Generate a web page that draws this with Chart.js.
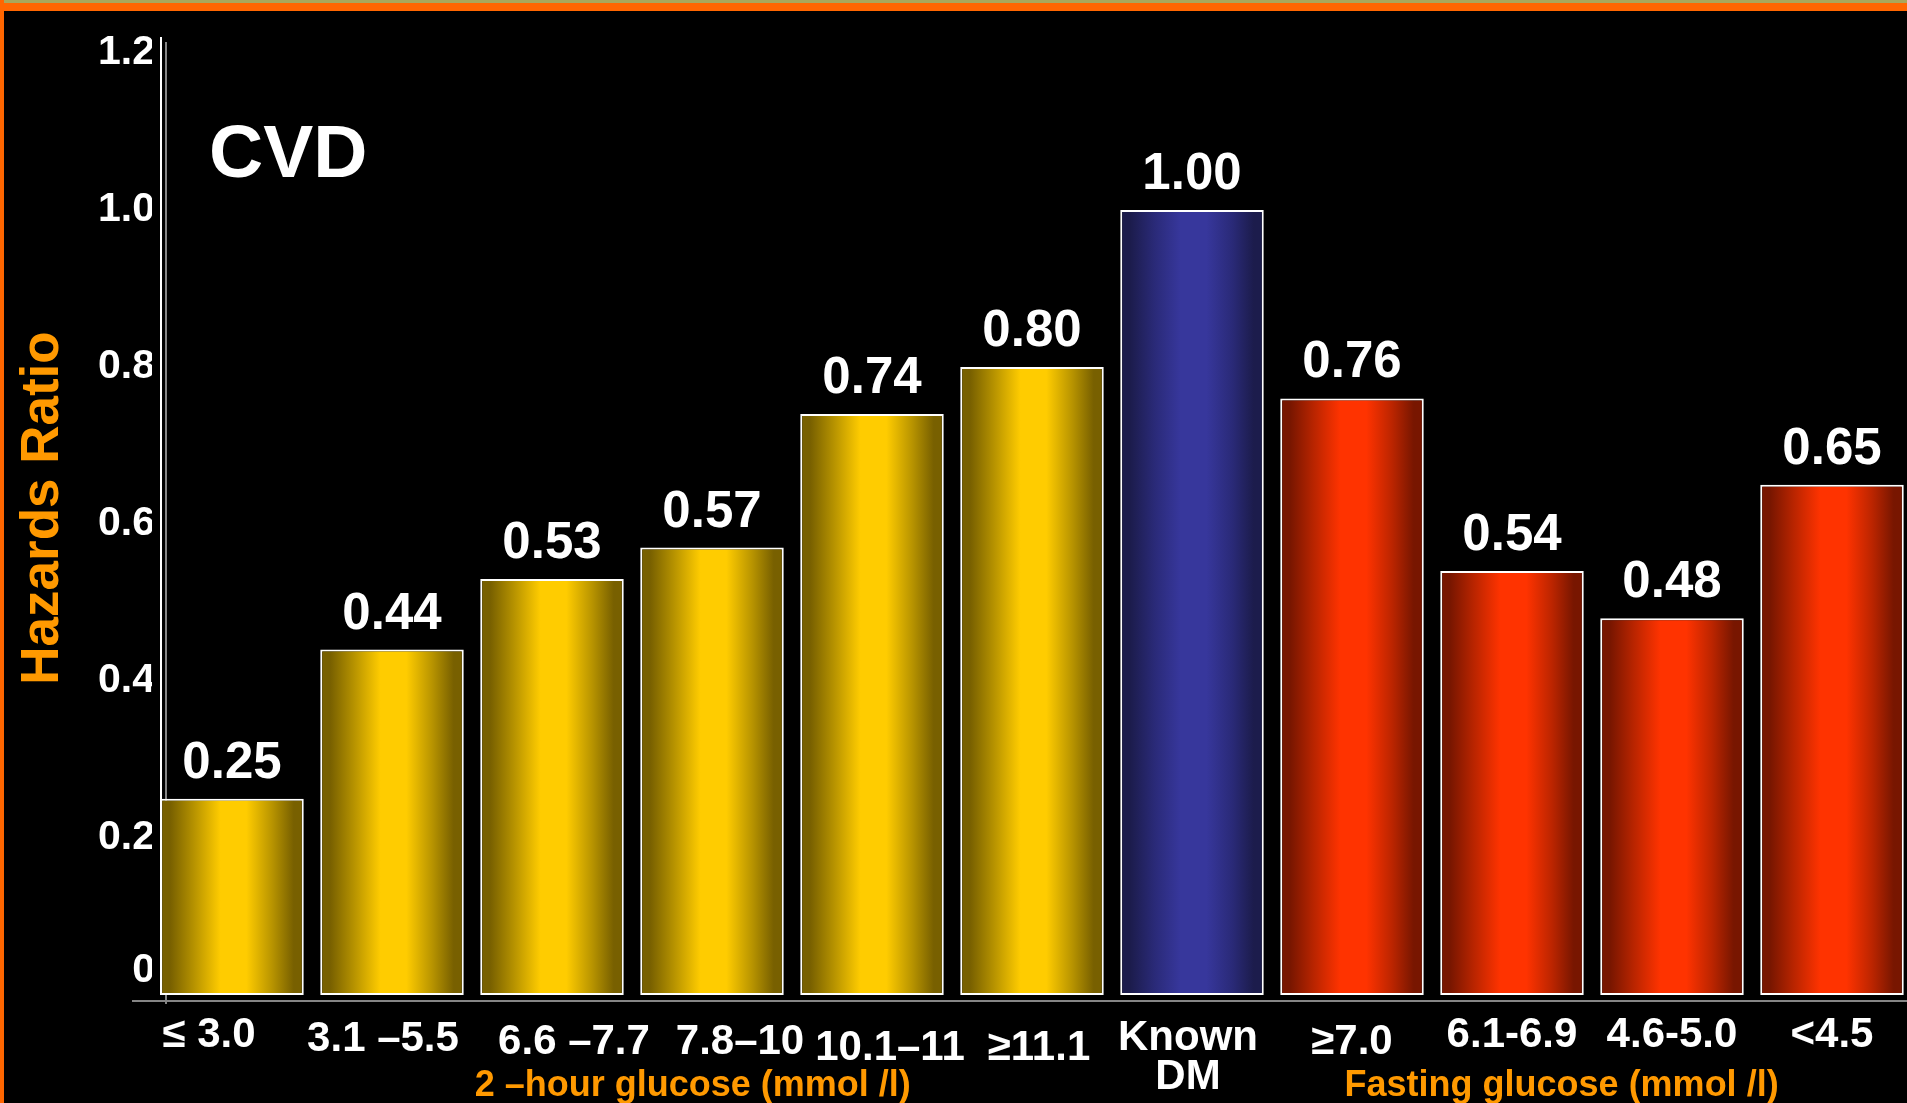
<!DOCTYPE html>
<html>
<head>
<meta charset="utf-8">
<title>CVD hazards ratio by glucose category</title>
<script src="https://cdn.jsdelivr.net/npm/chart.js@4/dist/chart.umd.min.js"></script>
<style>
  html, body { margin: 0; padding: 0; background: #000; overflow: hidden; }
  #wrap { width: 1912px; height: 1103px; }
</style>
</head>
<body>
<div id="wrap"><canvas id="chart" width="1912" height="1103"></canvas></div>
<script>
// ---- data ----
const categories = ['≤ 3.0', '3.1 –5.5', '6.6 –7.7', '7.8–10', '10.1–11', '≥11.1',
                    ['Known', 'DM'], '≥7.0', '6.1-6.9', '4.6-5.0', '<4.5'];
const twoHourHR = [0.25, 0.44, 0.53, 0.57, 0.74, 0.80, null, null, null, null, null];
const knownDmHR = [null, null, null, null, null, null, 1.00, null, null, null, null];
const fastingHR = [null, null, null, null, null, null, null, 0.76, 0.54, 0.48, 0.65];
const yTickValues = [0, 0.2, 0.4, 0.6, 0.8, 1.0, 1.2];
const groupTitles = ['2 –hour glucose (mmol /l)', 'Fasting glucose (mmol /l)'];
const yAxisTitle = 'Hazards Ratio';

// ---- layout / style ----
const FONT = '"Liberation Sans", Arial, Helvetica, sans-serif';
const BAR_FRACTION = 0.897;
// hand-placed shifts of the category labels, in pixels [dx, dy]
const labelNudges = [[-23, -2], [-9, 2], [22, 5], [28, 5], [18, 11], [7, 11],
                     [-4, 1], [0, 5], [0, -2], [0, -2], [0, -2]];
const GOLD = { edge: '#786000', mid: '#b89400', core: '#ffcc00' };
const BLUE = { edge: '#1c1c4c', mid: '#2a2a78', core: '#37379c' };
const RED  = { edge: '#781600', mid: '#bb2500', core: '#ff3300' };

Chart.defaults.font.family = FONT;

// horizontal "cylinder" shading across each bar
function barGradient(c) {
  return (ctx) => {
    const chart = ctx.chart;
    if (ctx.type !== 'data' || !chart.chartArea) return c.core;
    const xs = chart.scales.x;
    const cx = xs.getPixelForValue(ctx.dataIndex);
    const pitch = xs.getPixelForValue(1) - xs.getPixelForValue(0);
    const half = pitch * BAR_FRACTION / 2;
    const g = chart.ctx.createLinearGradient(cx - half, 0, cx + half, 0);
    g.addColorStop(0, c.edge);
    g.addColorStop(0.07, c.edge);
    g.addColorStop(0.24, c.mid);
    g.addColorStop(0.42, c.core);
    g.addColorStop(0.6, c.core);
    g.addColorStop(0.78, c.mid);
    g.addColorStop(0.93, c.edge);
    g.addColorStop(1, c.edge);
    return g;
  };
}

function barDataset(label, data, colors) {
  return {
    label, data,
    backgroundColor: barGradient(colors),
    borderColor: '#ffffff',
    borderWidth: 2,
    borderSkipped: false,
    categoryPercentage: 1,
    barPercentage: BAR_FRACTION,
    skipNull: true
  };
}

// slide frame and axis lines
const frame = {
  id: 'frame',
  beforeDraw(chart) {
    const { ctx, width, height } = chart;
    ctx.save();
    ctx.fillStyle = '#000';
    ctx.fillRect(0, 0, width, height);
    ctx.fillStyle = '#a9a75b';
    ctx.fillRect(0, 0, width, 3);
    ctx.fillStyle = '#ff6600';
    ctx.fillRect(0, 3, width, 8);
    ctx.fillRect(0, 0, 4, height);
    ctx.restore();

    // shift individual category labels before the x axis paints them
    const xs = chart.scales.x;
    xs.getLabelItems(chart.chartArea).forEach((item, i) => {
      const n = labelNudges[i];
      if (!n || item._nudged) return;
      item.options.translation = [item.options.translation[0] + n[0], item.options.translation[1] + n[1]];
      item._nudged = true;
    });
  },
  beforeDatasetsDraw(chart) {
    const { ctx, chartArea } = chart;
    const y0 = chart.scales.y.getPixelForValue(0);
    const yTop = chart.scales.y.getPixelForValue(1.2);
    const left = chartArea.left;
    ctx.save();
    ctx.lineWidth = 2;
    ctx.strokeStyle = '#ffffff';
    ctx.beginPath(); ctx.moveTo(left + 9, yTop - 16); ctx.lineTo(left + 9, y0); ctx.stroke();
    ctx.strokeStyle = '#858585';
    ctx.beginPath(); ctx.moveTo(left + 14, yTop - 11); ctx.lineTo(left + 14, y0 + 9); ctx.stroke();
    ctx.beginPath(); ctx.moveTo(left - 20, y0 + 6); ctx.lineTo(chart.width, y0 + 6); ctx.stroke();
    ctx.restore();
  }
};

// numeric value over every bar
const valueLabels = {
  id: 'valueLabels',
  afterDatasetsDraw(chart) {
    const ctx = chart.ctx;
    ctx.save();
    ctx.fillStyle = '#ffffff';
    ctx.font = 'bold 51px ' + FONT;
    ctx.textAlign = 'center';
    ctx.textBaseline = 'alphabetic';
    chart.data.datasets.forEach((ds, i) => {
      chart.getDatasetMeta(i).data.forEach((el, j) => {
        const v = ds.data[j];
        if (v === null || v === undefined) return;
        ctx.fillText(v.toFixed(2), el.x, el.y - 21);
      });
    });
    ctx.restore();
  }
};

// panel title, vertical axis title and the two group captions
const captions = {
  id: 'captions',
  afterDraw(chart, args, opts) {
    const ctx = chart.ctx;
    const xs = chart.scales.x;
    ctx.save();
    ctx.fillStyle = '#ffffff';
    ctx.font = 'bold 75px ' + FONT;
    ctx.textAlign = 'left';
    ctx.textBaseline = 'alphabetic';
    ctx.fillText(opts.title, chart.chartArea.left + 57, 177);

    ctx.fillStyle = '#ff9900';
    ctx.font = 'bold 53px ' + FONT;
    ctx.textAlign = 'center';
    ctx.textBaseline = 'middle';
    ctx.save();
    ctx.translate(43, 508);
    ctx.rotate(-Math.PI / 2);
    ctx.fillText(opts.axisTitle, 0, 0);
    ctx.restore();

    ctx.font = 'bold 36px ' + FONT;
    ctx.textBaseline = 'alphabetic';
    opts.groups.forEach((text, k) => {
      ctx.fillText(text, xs.getPixelForValue(opts.centers[k]), 1096);
    });
    ctx.restore();
  }
};

new Chart(document.getElementById('chart'), {
  type: 'bar',
  data: {
    labels: categories,
    datasets: [
      barDataset('2-hour glucose', twoHourHR, GOLD),
      barDataset('Known DM', knownDmHR, BLUE),
      barDataset('Fasting glucose', fastingHR, RED)
    ]
  },
  options: {
    responsive: false,
    animation: false,
    events: [],
    layout: { padding: { top: 53, left: 0, right: 0, bottom: 0 } },
    plugins: {
      legend: { display: false },
      tooltip: { enabled: false },
      captions: { title: 'CVD', axisTitle: yAxisTitle, groups: groupTitles, centers: [2.88, 8.31] }
    },
    scales: {
      x: {
        type: 'category',
        offset: true,
        grid: { display: false, drawTicks: false },
        border: { display: false },
        ticks: {
          color: '#ffffff',
          font: { size: 42, weight: 'bold', lineHeight: 0.95 },
          padding: 22,
          maxRotation: 0,
          autoSkip: false
        },
        afterFit(scale) { scale.height = 108; }
      },
      y: {
        min: 0,
        max: 1.2,
        afterBuildTicks(scale) { scale.ticks = yTickValues.map(v => ({ value: v })); },
        grid: { display: false, drawTicks: false },
        border: { display: false },
        ticks: {
          color: '#ffffff',
          font: { size: 41, weight: 'bold' },
          padding: -3,
          callback: (v) => (v === 0 ? ['0', ''] : v.toFixed(1))
        },
        afterFit(scale) { scale.width = 152; }
      }
    }
  },
  plugins: [frame, valueLabels, captions]
});
</script>
</body>
</html>
